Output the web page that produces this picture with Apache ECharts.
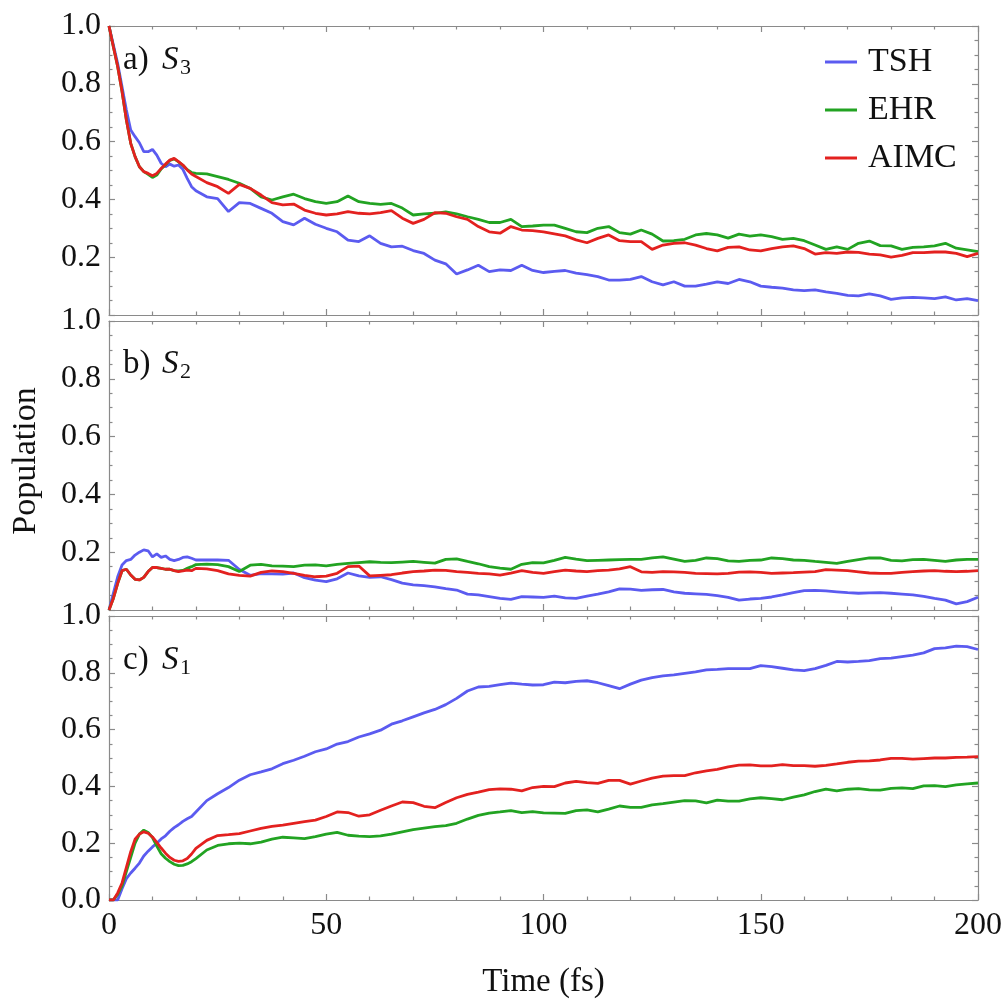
<!DOCTYPE html>
<html>
<head>
<meta charset="utf-8">
<script src="https://cdn.jsdelivr.net/npm/echarts@6/dist/echarts.min.js"></script>
<style>
html,body{margin:0;padding:0;background:#fff;}
#chart{width:1007px;height:1000px;}
</style>
</head>
<body>
<div id="chart"></div>
<script>
// ---------- DATA ----------
const TIME = [0,1,2,3,4,5,6,7,8,9,10,11,12,13,14,15,16,17,18,19,20,
  22.5,25,27.5,30,32.5,35,37.5,40,42.5,45,47.5,50,52.5,55,57.5,60,62.5,65,67.5,
  70,72.5,75,77.5,80,82.5,85,87.5,90,92.5,95,97.5,100,102.5,105,107.5,110,112.5,115,117.5,120,122.5,125,127.5,130,132.5,135,
  137.5,140,142.5,145,147.5,150,152.5,155,157.5,160,162.5,165,167.5,170,172.5,175,177.5,180,182.5,185,187.5,190,192.5,195,197.5,200];

const SERIES_NAMES = ['TSH','EHR','AIMC'];
const PANEL_LABELS = [['a)','3'],['b)','2'],['c)','1']];
const X_TICKS = [0,50,100,150,200];
const Y_TICKS = [0,0.2,0.4,0.6,0.8,1.0];

// a) S3
const S3_TSH = [1.0,0.935,0.87,0.79,0.709,0.64,0.617,0.596,0.565,0.565,0.573,0.553,0.525,0.513,0.522,0.515,0.519,0.504,0.473,0.444,0.43,
  0.409,0.403,0.358,0.389,0.386,0.369,0.352,0.323,0.312,0.335,0.314,0.3,0.288,0.259,0.254,0.274,0.248,0.236,0.238,
  0.223,0.213,0.19,0.177,0.142,0.156,0.172,0.15,0.156,0.154,0.172,0.154,0.147,0.151,0.154,0.145,0.14,0.133,0.121,0.121,0.123,0.133,0.115,0.104,0.115,0.1,0.1,
  0.107,0.115,0.109,0.123,0.115,0.1,0.096,0.093,0.087,0.084,0.087,0.08,0.075,0.068,0.066,0.073,0.066,0.054,0.059,0.061,0.059,0.057,0.063,0.052,0.057,0.05];
const S3_EHR = [1.0,0.928,0.859,0.773,0.675,0.594,0.548,0.513,0.496,0.487,0.476,0.484,0.505,0.52,0.535,0.54,0.53,0.518,0.503,0.493,0.49,
  0.488,0.479,0.469,0.456,0.438,0.409,0.398,0.409,0.418,0.403,0.392,0.386,0.392,0.412,0.392,0.386,0.383,0.386,0.37,
  0.346,0.35,0.352,0.357,0.35,0.34,0.331,0.32,0.32,0.331,0.306,0.308,0.311,0.311,0.3,0.288,0.285,0.3,0.306,0.285,0.28,0.294,0.28,0.256,0.257,0.262,0.277,
  0.282,0.277,0.266,0.28,0.273,0.277,0.271,0.262,0.265,0.257,0.242,0.227,0.236,0.227,0.248,0.256,0.24,0.239,0.227,0.234,0.236,0.239,0.248,0.231,0.225,0.219];
const S3_AIMC = [1.0,0.928,0.859,0.773,0.675,0.594,0.548,0.513,0.496,0.49,0.482,0.49,0.507,0.522,0.536,0.542,0.531,0.519,0.502,0.488,0.479,
  0.458,0.444,0.421,0.452,0.438,0.415,0.389,0.381,0.384,0.363,0.352,0.346,0.35,0.358,0.352,0.35,0.354,0.361,0.335,
  0.317,0.331,0.354,0.352,0.34,0.331,0.306,0.288,0.283,0.306,0.294,0.292,0.288,0.281,0.274,0.26,0.25,0.265,0.277,0.257,0.254,0.254,0.227,0.242,0.248,0.25,0.242,
  0.23,0.222,0.234,0.236,0.225,0.222,0.23,0.236,0.239,0.23,0.211,0.216,0.213,0.218,0.217,0.211,0.208,0.2,0.206,0.216,0.216,0.218,0.218,0.213,0.202,0.213];

// b) S2
const S2_TSH = [0,0.058,0.115,0.156,0.171,0.175,0.19,0.2,0.208,0.205,0.184,0.194,0.182,0.187,0.175,0.171,0.175,0.182,0.184,0.179,0.173,
  0.173,0.173,0.172,0.14,0.12,0.126,0.125,0.124,0.128,0.112,0.103,0.098,0.108,0.128,0.118,0.113,0.115,0.105,0.093,
  0.087,0.084,0.08,0.074,0.069,0.055,0.052,0.046,0.04,0.037,0.046,0.045,0.044,0.048,0.042,0.04,0.048,0.055,0.063,0.073,0.072,0.068,0.07,0.071,0.063,0.058,0.056,
  0.054,0.05,0.044,0.034,0.038,0.04,0.045,0.052,0.06,0.067,0.068,0.066,0.063,0.06,0.058,0.059,0.06,0.058,0.055,0.052,0.047,0.04,0.034,0.021,0.029,0.044];
const S2_EHR = [0,0.04,0.092,0.136,0.141,0.121,0.106,0.104,0.113,0.133,0.147,0.147,0.144,0.141,0.141,0.136,0.135,0.137,0.144,0.15,0.157,
  0.159,0.157,0.15,0.133,0.155,0.158,0.153,0.152,0.15,0.155,0.156,0.153,0.158,0.161,0.164,0.167,0.165,0.164,0.166,
  0.168,0.165,0.162,0.175,0.177,0.168,0.16,0.15,0.145,0.141,0.158,0.164,0.163,0.172,0.182,0.176,0.171,0.172,0.173,0.174,0.175,0.175,0.18,0.184,0.176,0.168,0.172,
  0.18,0.178,0.17,0.168,0.172,0.173,0.18,0.178,0.173,0.172,0.168,0.165,0.161,0.168,0.174,0.18,0.18,0.172,0.17,0.174,0.175,0.172,0.168,0.173,0.175,0.175];
const S2_AIMC = [0,0.04,0.092,0.136,0.141,0.121,0.106,0.104,0.113,0.133,0.147,0.147,0.144,0.141,0.141,0.136,0.133,0.135,0.138,0.136,0.144,
  0.142,0.136,0.125,0.12,0.117,0.13,0.135,0.133,0.127,0.12,0.115,0.117,0.127,0.15,0.152,0.118,0.12,0.122,0.128,
  0.133,0.135,0.138,0.137,0.133,0.13,0.127,0.125,0.121,0.128,0.136,0.13,0.127,0.133,0.138,0.135,0.133,0.136,0.138,0.142,0.15,0.132,0.13,0.133,0.132,0.13,0.127,
  0.126,0.125,0.127,0.131,0.132,0.13,0.127,0.128,0.129,0.131,0.133,0.14,0.138,0.136,0.132,0.128,0.127,0.127,0.13,0.133,0.135,0.136,0.134,0.133,0.134,0.136];

// c) S1
const S1_TSH = [0,0,0,0.04,0.075,0.095,0.112,0.13,0.155,0.172,0.187,0.2,0.215,0.226,0.242,0.255,0.265,0.277,0.286,0.294,0.31,
  0.35,0.374,0.396,0.422,0.441,0.451,0.462,0.48,0.492,0.506,0.522,0.532,0.549,0.558,0.574,0.585,0.598,0.619,0.631,
  0.645,0.659,0.671,0.688,0.71,0.736,0.75,0.752,0.758,0.764,0.76,0.757,0.758,0.767,0.765,0.77,0.772,0.765,0.755,0.744,0.76,0.774,0.783,0.789,0.793,0.798,0.803,
  0.81,0.812,0.815,0.815,0.815,0.825,0.822,0.816,0.81,0.808,0.815,0.826,0.84,0.838,0.84,0.843,0.85,0.852,0.857,0.862,0.87,0.885,0.888,0.894,0.892,0.882];
const S1_EHR = [0,0,0.02,0.05,0.1,0.15,0.2,0.232,0.246,0.238,0.22,0.19,0.163,0.147,0.135,0.126,0.121,0.122,0.127,0.135,0.146,
  0.176,0.192,0.198,0.2,0.198,0.204,0.214,0.221,0.219,0.216,0.223,0.232,0.238,0.228,0.225,0.223,0.226,0.232,0.24,
  0.248,0.253,0.258,0.262,0.27,0.285,0.298,0.306,0.31,0.315,0.308,0.311,0.307,0.306,0.305,0.315,0.317,0.31,0.32,0.331,0.326,0.326,0.335,0.339,0.345,0.35,0.349,
  0.342,0.352,0.348,0.348,0.356,0.36,0.357,0.353,0.362,0.37,0.382,0.39,0.384,0.39,0.392,0.388,0.387,0.393,0.395,0.392,0.402,0.403,0.399,0.405,0.409,0.412];
const S1_AIMC = [0,0,0.025,0.06,0.115,0.17,0.214,0.232,0.24,0.235,0.222,0.203,0.183,0.165,0.15,0.14,0.136,0.138,0.146,0.162,0.182,
  0.21,0.227,0.23,0.234,0.243,0.252,0.259,0.264,0.27,0.276,0.281,0.294,0.31,0.308,0.295,0.3,0.316,0.331,0.345,
  0.343,0.33,0.325,0.343,0.36,0.372,0.38,0.389,0.391,0.39,0.384,0.396,0.4,0.399,0.412,0.418,0.413,0.411,0.421,0.421,0.408,0.419,0.429,0.436,0.438,0.438,0.448,
  0.455,0.46,0.469,0.475,0.476,0.472,0.472,0.477,0.473,0.473,0.471,0.474,0.479,0.485,0.489,0.49,0.493,0.499,0.499,0.496,0.498,0.5,0.5,0.502,0.503,0.505];

// ---------- STYLE / LAYOUT ----------
const PANELS = [[S3_TSH,S3_EHR,S3_AIMC],[S2_TSH,S2_EHR,S2_AIMC],[S1_TSH,S1_EHR,S1_AIMC]];
const COLORS = ['#5b5bf0','#22a322','#e3211f'];
const FONT = 'Liberation Serif';
const TOPS = [26, 321, 616];
const PH = 289, LEFT = 109, PW = 869;
const FRAME = '#8a8a8a';

function pairs(arr){ return TIME.map((t,i)=>[t, arr[i]]); }

const lineStyleFrame = {color: FRAME, width: 1.2};
const grids = [], xAxes = [], yAxes = [], series = [], graphics = [];

PANELS.forEach((panel, p) => {
  grids.push({left: LEFT, width: PW, top: TOPS[p], height: PH});
  const xBase = {
    gridIndex: p, type: 'value', min: X_TICKS[0], max: X_TICKS[X_TICKS.length-1], interval: 50,
    axisLine: {show: true, onZero: false, lineStyle: lineStyleFrame},
    axisTick: {show: true, inside: true, length: 6, lineStyle: lineStyleFrame},
    minorTick: {show: true, splitNumber: 5, length: 3.5, lineStyle: lineStyleFrame},
    splitLine: {show: false}
  };
  xAxes.push(Object.assign({}, xBase, {
    position: 'bottom',
    axisLabel: {show: p === 2, fontFamily: FONT, fontSize: 32, color: '#111', margin: 10},
    name: p === 2 ? 'Time (fs)' : '', nameLocation: 'middle', nameGap: 66,
    nameTextStyle: {fontFamily: FONT, fontSize: 33, color: '#111'}
  }));
  xAxes.push(Object.assign({}, xBase, {position: 'top', axisLabel: {show: false}}));

  const yBase = {
    gridIndex: p, type: 'value', min: Y_TICKS[0], max: Y_TICKS[Y_TICKS.length-1], interval: 0.2,
    axisLine: {show: true, onZero: false, lineStyle: lineStyleFrame},
    axisTick: {show: true, inside: true, length: 6, lineStyle: lineStyleFrame},
    minorTick: {show: true, splitNumber: 4, length: 3.5, lineStyle: lineStyleFrame},
    splitLine: {show: false}
  };
  yAxes.push(Object.assign({}, yBase, {
    position: 'left',
    axisLabel: {show: true, fontFamily: FONT, fontSize: 32, color: '#111', margin: 8,
      formatter: v => (p < 2 && Math.abs(v) < 1e-9) ? '' : v.toFixed(1)}
  }));
  yAxes.push(Object.assign({}, yBase, {position: 'right', axisLabel: {show: false}}));

  panel.forEach((arr, k) => {
    series.push({
      name: SERIES_NAMES[k], type: 'line', xAxisIndex: p*2, yAxisIndex: p*2,
      data: pairs(arr), showSymbol: false, symbol: 'none',
      lineStyle: {color: COLORS[k], width: 2.8}, itemStyle: {color: COLORS[k]},
      z: 2 + k
    });
  });

  const cy = TOPS[p] + [34, 43, 44][p];
  graphics.push({type: 'text', x: 123, y: cy, style: {text: PANEL_LABELS[p][0], font: '33px ' + FONT, fill: '#111', textAlign: 'left', textVerticalAlign: 'middle', align: 'left', verticalAlign: 'middle'}});
  graphics.push({type: 'text', x: 162, y: cy, style: {text: 'S', font: 'italic 33px ' + FONT, fill: '#111', textAlign: 'left', textVerticalAlign: 'middle', align: 'left', verticalAlign: 'middle'}});
  graphics.push({type: 'text', x: 180, y: cy + 8, style: {text: PANEL_LABELS[p][1], font: '22px ' + FONT, fill: '#111', textAlign: 'left', textVerticalAlign: 'middle', align: 'left', verticalAlign: 'middle'}});
});

graphics.push({type: 'text', x: 26, y: 461, rotation: Math.PI/2,
  style: {text: 'Population', font: '34px ' + FONT, fill: '#111', textAlign: 'center', textVerticalAlign: 'middle', align: 'center', verticalAlign: 'middle'}});

const chart = echarts.init(document.getElementById('chart'), null, {renderer: 'canvas'});
chart.setOption({
  animation: false,
  backgroundColor: '#ffffff',
  grid: grids,
  xAxis: xAxes,
  yAxis: yAxes,
  legend: {
    data: SERIES_NAMES, orient: 'vertical', left: 825, top: 45, padding: 0,
    itemWidth: 32, itemHeight: 3, itemGap: 14, icon: 'rect',
    textStyle: {fontFamily: FONT, fontSize: 34, color: '#111', padding: [0, 0, 0, 6]}
  },
  graphic: graphics,
  series: series
});
</script>
</body>
</html>
